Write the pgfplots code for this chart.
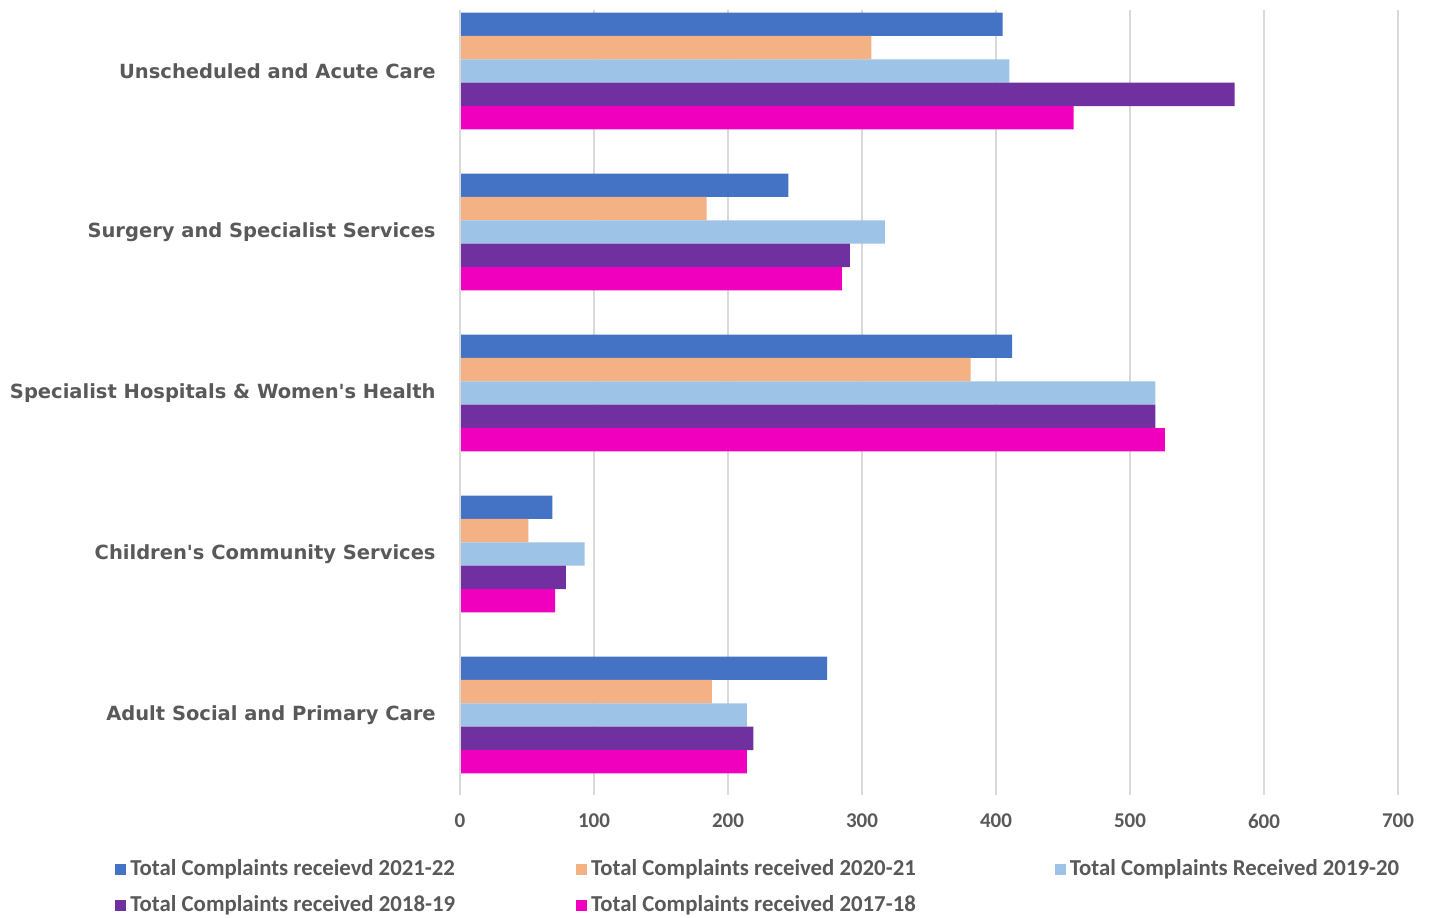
\documentclass[border=0pt]{standalone}
\usepackage{pgfplots}
\pgfplotsset{compat=1.18}
\usepackage{fontspec}
\setmainfont{Carlito}
\newfontfamily\catfont{DejaVu Sans}

\definecolor{labelgray}{HTML}{595959}
\definecolor{gridgray}{HTML}{D9D9D9}
\definecolor{sBlue}{HTML}{4472C4}
\definecolor{sOrange}{HTML}{F4B183}
\definecolor{sLightBlue}{HTML}{9DC3E6}
\definecolor{sPurple}{HTML}{7030A0}
\definecolor{sMagenta}{HTML}{F000BE}

% Complaints per division; y = 4 (top) ... 0 (bottom)
\pgfplotstableread{
y  v
4  405
3  245
2  412
1  69
0  274
}\tblA
\pgfplotstableread{
y  v
4  307
3  184
2  381
1  51
0  188
}\tblB
\pgfplotstableread{
y  v
4  410
3  317
2  519
1  93
0  214
}\tblC
\pgfplotstableread{
y  v
4  578
3  291
2  519
1  79
0  219
}\tblD
\pgfplotstableread{
y  v
4  458
3  285
2  526
1  71
0  214
}\tblE

\begin{document}
\begin{tikzpicture}
\useasboundingbox (0,0) rectangle (716.5pt,458.5pt);
\begin{axis}[
  at={(230pt,61pt)}, anchor=south west,
  scale only axis, width=469pt, height=392.5pt,
  xbar, bar width=0.1453,
  xmin=0, xmax=700, ymin=-0.497, ymax=4.379,
  xtick={0,100,...,700},
  ytick={0,1,2,3,4},
  yticklabels={Adult Social and Primary Care,
               Children's Community Services,
               Specialist Hospitals \& Women's Health,
               Surgery and Specialist Services,
               Unscheduled and Acute Care},
  major tick length=0pt,
  axis line style={draw=none},
  xmajorgrids, major grid style={gridgray, line width=0.8pt},
  /pgf/number format/assume math mode=true,
  xticklabel style={font=\bfseries\fontsize{10.5}{12}\selectfont, text=labelgray, yshift=-6pt},
  yticklabel style={font=\catfont\bfseries\fontsize{9.75}{12}\selectfont, text=labelgray, inner sep=0pt, xshift=-12pt},
  legend columns=3,
  legend cell align=left,
  legend image code/.code={\fill[#1] (0pt,-2.75pt) rectangle (5.5pt,2.75pt);},
  legend style={at={(rel axis cs:-0.3678,-0.077)}, anchor=north west, draw=none,
    font=\bfseries\fontsize{11.4}{13}\selectfont, text=labelgray, inner sep=0pt,
    row sep=4.5pt,
    /tikz/every even column/.append style={column sep=58.5pt}},
]
\addplot[fill=sBlue, draw=none, bar shift=0.2906] table[x=v, y=y] {\tblA};
\addlegendentry{Total Complaints receievd 2021-22}
\addplot[fill=sOrange, draw=none, bar shift=0.1453] table[x=v, y=y] {\tblB};
\addlegendentry{Total Complaints received 2020-21\rule{9pt}{0pt}}
\addplot[fill=sLightBlue, draw=none, bar shift=0] table[x=v, y=y] {\tblC};
\addlegendentry{Total Complaints Received 2019-20}
\addplot[fill=sPurple, draw=none, bar shift=-0.1453] table[x=v, y=y] {\tblD};
\addlegendentry{Total Complaints received 2018-19}
\addplot[fill=sMagenta, draw=none, bar shift=-0.2906] table[x=v, y=y] {\tblE};
\addlegendentry{Total Complaints received 2017-18}
\draw[gridgray, line width=0.8pt] (axis cs:0,-0.497) -- (axis cs:0,4.379);
\end{axis}
\end{tikzpicture}
\end{document}
